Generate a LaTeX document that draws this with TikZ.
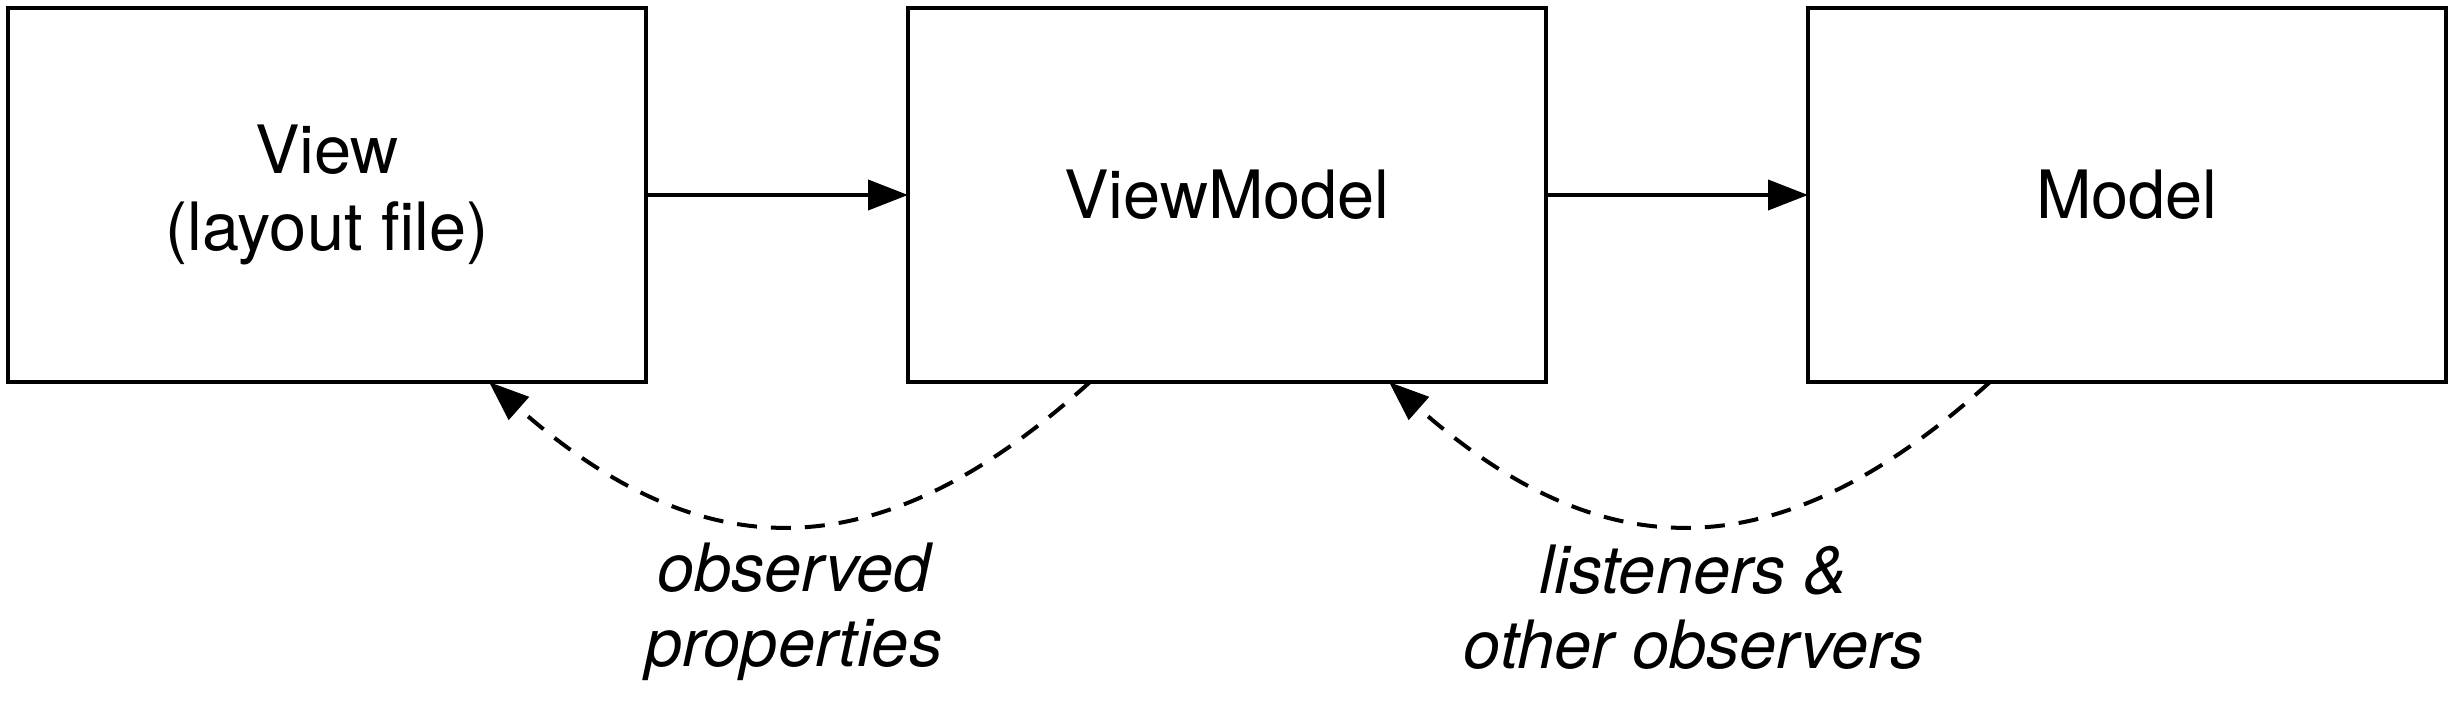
\documentclass[tikz,border=0pt]{standalone}
\usepackage{fontspec}
\setmainfont{TeX Gyre Heros}
\usetikzlibrary{arrows.meta}
\begin{document}
\begin{tikzpicture}[x=0.3pt,y=-0.3pt,
  box/.style={draw,line width=1.2pt,minimum width=191.4pt,minimum height=112.2pt,inner sep=0pt,outer sep=0pt,align=center,font=\fontsize{20}{23}\selectfont},
  flow/.style={line width=1.2pt,-{Triangle[length=12pt,width=9pt]}},
  back/.style={line width=1.2pt,dash pattern=on 6pt off 4.2pt,-{Triangle[length=12pt,width=9pt]}},
  lab/.style={inner sep=0pt,align=center,anchor=north,font=\itshape\fontsize{20}{22.5}\selectfont}]
\useasboundingbox (0,0) rectangle (2454,704);
\node[box] (view) at (327,195) {View\\(layout file)};
\node[box] (vm) at (1227,195) {ViewModel};
\node[box] (model) at (2127,195) {Model};
\draw[flow] (view.east) -- (vm.west);
\draw[flow] (vm.east) -- (model.west);
\draw[back] ([xshift=-41.1pt]vm.south) .. controls +(-210,190) and +(215,190) .. ([xshift=48.6pt]view.south);
\draw[back] ([xshift=-41.1pt]model.south) .. controls +(-210,190) and +(215,190) .. ([xshift=48.6pt]vm.south);
\node[lab] (lab1) at (794,542) {observed\\properties};
\node[lab] (lab2) at (1694,544) {listeners \&\\other observers};
\end{tikzpicture}
\end{document}
